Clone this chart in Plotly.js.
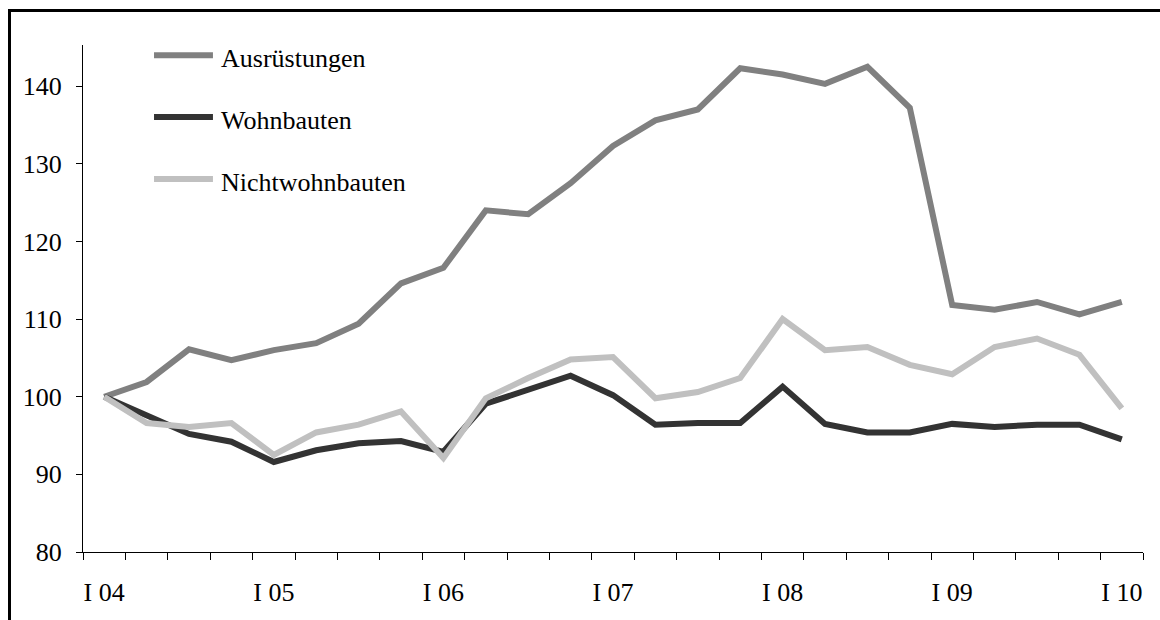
<!DOCTYPE html>
<html>
<head>
<meta charset="utf-8">
<script src="https://cdn.plot.ly/plotly-3.0.1.min.js"></script>
<style>
  html, body { margin: 0; padding: 0; background: #fff; }
  #wrap { position: relative; width: 1160px; height: 620px; overflow: hidden; }
  #chart { position: absolute; left: 0; top: 0; width: 1160px; height: 620px; }
  #frame { position: absolute; left: 8px; top: 9px; width: 1200px; height: 700px;
           border-top: 3px solid #000; border-left: 3px solid #000; pointer-events: none; }
</style>
</head>
<body>
<div id="wrap">
  <div id="chart"></div>
  <div id="frame"></div>
</div>
<script>
// Quarters I 04 ... I 10
const quarters = [
  "I 04","II 04","III 04","IV 04",
  "I 05","II 05","III 05","IV 05",
  "I 06","II 06","III 06","IV 06",
  "I 07","II 07","III 07","IV 07",
  "I 08","II 08","III 08","IV 08",
  "I 09","II 09","III 09","IV 09",
  "I 10"
];
const tickLabels = ["I 04","I 05","I 06","I 07","I 08","I 09","I 10"];

const seriesNames = ["Ausrüstungen", "Wohnbauten", "Nichtwohnbauten"];

const ausruestungen = [100.0, 101.9, 106.1, 104.7, 106.0, 106.9, 109.4, 114.6,
                       116.6, 124.0, 123.5, 127.5, 132.3, 135.6, 137.0, 142.3,
                       141.5, 140.3, 142.5, 137.2, 111.8, 111.2, 112.2, 110.6, 112.2];
const wohnbauten = [100.0, 97.5, 95.2, 94.2, 91.6, 93.1, 94.0, 94.3,
                    92.9, 99.1, 100.9, 102.7, 100.2, 96.4, 96.6, 96.6,
                    101.3, 96.5, 95.4, 95.4, 96.5, 96.1, 96.4, 96.4, 94.5];
const nichtwohnbauten = [100.0, 96.6, 96.1, 96.6, 92.5, 95.4, 96.4, 98.1,
                         92.1, 99.8, 102.4, 104.8, 105.1, 99.8, 100.6, 102.4,
                         110.0, 106.0, 106.4, 104.1, 102.9, 106.4, 107.5, 105.4, 98.5];

const colors = ["#808080", "#333333", "#c0c0c0"];
const values = [ausruestungen, wohnbauten, nichtwohnbauten];

const idx = quarters.map((q, i) => i);
const tickIdx = quarters.map((q, i) => i).filter(i => tickLabels.indexOf(quarters[i]) >= 0);

const traces = values.map((v, k) => ({
  type: "scatter",
  mode: "lines",
  x: idx,
  y: v,
  name: seriesNames[k],
  text: quarters,
  line: { color: colors[k], width: 6 },
  showlegend: false,
  hoverinfo: "text+y+name"
}));
// invisible trace to activate the boundary-tick axis
traces.push({ type: "scatter", mode: "lines", x: [0], y: [80], xaxis: "x2", yaxis: "y",
              line: { color: "rgba(0,0,0,0)" }, showlegend: false, hoverinfo: "skip" });

const fontFam = "'Liberation Serif', 'Times New Roman', serif";

// custom legend
const legY = [0.980, 0.858, 0.7357];
const shapes = [];
const annotations = [];
seriesNames.forEach((n, k) => {
  shapes.push({ type: "line", xref: "paper", yref: "paper",
                x0: 0.067, x1: 0.1226, y0: legY[k], y1: legY[k],
                line: { color: colors[k], width: 6 } });
  annotations.push({ xref: "paper", yref: "paper", x: 0.1283, y: legY[k] - 0.007,
                     xanchor: "left", yanchor: "middle", showarrow: false, text: n,
                     font: { family: fontFam, size: 26, color: "#000" } });
});

const layout = {
  width: 1160, height: 620,
  margin: { l: 83, r: 17, t: 45, b: 68, pad: 0 },
  paper_bgcolor: "#fff", plot_bgcolor: "#fff",
  font: { family: fontFam, size: 26, color: "#000" },
  showlegend: false,
  xaxis: {
    range: [-0.5, quarters.length - 0.5],
    tickmode: "array",
    tickvals: tickIdx,
    ticktext: tickIdx.map(i => quarters[i]),
    ticks: "outside", ticklen: 17, tickcolor: "rgba(0,0,0,0)",
    showline: true, linecolor: "#000", linewidth: 1,
    showgrid: false, zeroline: false,
    tickfont: { family: fontFam, size: 26, color: "#000" }
  },
  xaxis2: {
    overlaying: "x",
    range: [-0.5, quarters.length - 0.5],
    tickmode: "linear", tick0: -0.5, dtick: 1,
    ticks: "outside", ticklen: 7, tickcolor: "#000", tickwidth: 1,
    showticklabels: false, showgrid: false, zeroline: false, showline: false,
    side: "bottom", anchor: "y"
  },
  yaxis: {
    range: [80, 145.3],
    tickmode: "linear", tick0: 80, dtick: 10,
    ticks: "outside", ticklen: 6, tickcolor: "#000",
    ticklabelstandoff: 9,
    showline: true, linecolor: "#000", linewidth: 1,
    showgrid: false, zeroline: false,
    tickfont: { family: fontFam, size: 26, color: "#000" }
  },
  shapes: shapes,
  annotations: annotations
};

Plotly.newPlot("chart", traces, layout, { displayModeBar: false, staticPlot: true });
</script>
</body>
</html>
